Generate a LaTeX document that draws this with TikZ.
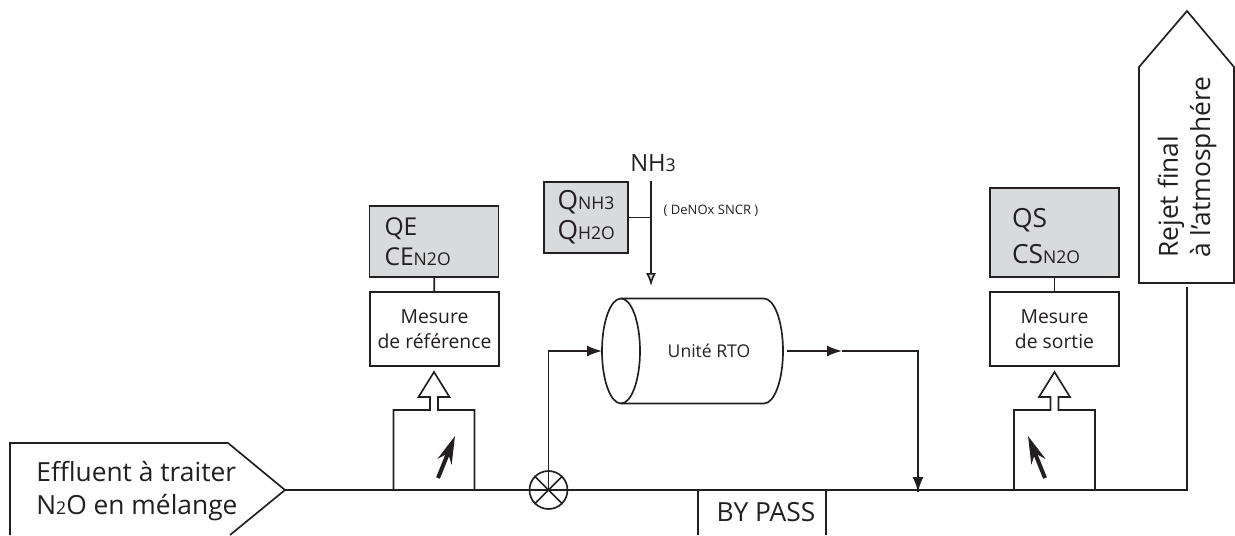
\documentclass[tikz,border=0pt]{standalone}
\usepackage{fontspec}
\setmainfont{Open Sans}
\usepackage{xcolor}
\usetikzlibrary{arrows.meta}
\definecolor{boxgray}{HTML}{D9DADB}
\definecolor{linegray}{HTML}{231F20}
\newcommand{\smalltxt}[1]{{\fontsize{10}{12}\selectfont #1}}
\tikzset{
  gbox/.style   = {rectangle, draw=linegray, fill=boxgray, inner xsep=0.3cm, inner ysep=0pt,
                   minimum width=2.58cm, text width=1.98cm, align=left, line width=0.95pt},
  mbox/.style   = {rectangle, draw=linegray, inner sep=0pt, minimum width=2.58cm,
                   minimum height=1.48cm, align=center, line width=0.95pt,
                   font=\fontsize{11}{14.5}\selectfont},
  pipe/.style   = {draw=linegray, line width=0.95pt},
  flow/.style   = {pipe, -{Latex[length=0.3cm,width=0.22cm]}},
}

\begin{document}
\begin{tikzpicture}[font=\fontsize{15}{18.3}\selectfont, text=linegray]
  \useasboundingbox (0,0) rectangle (24.7,10.7);

  % Inlet and stack outlines
  \draw[pipe] (0.20,0) -- (0.20,1.84) -- (4.56,1.84) -- (5.70,0.90) -- (4.60,0);
  \draw[pipe] (22.78,5.04) -- (22.78,9.36) -- (23.74,10.48) -- (24.68,9.36) -- (24.68,5.04) -- cycle;
  \node[anchor=west, align=left, inner xsep=0pt] (inlet) at (0.72,0.88) {Effluent à traiter\\N{\fontsize{10}{12}\selectfont 2}O en mélange};
  \node[anchor=west, rotate=90, align=left, inner xsep=0pt] (stack) at (23.74,5.54) {Rejet final\\à l'atmosphére};

  \coordinate (inlettip) at (5.70,0.90);
  \coordinate (stackfoot) at (23.74,4.96);

  % Main line
  \node[circle, pipe, minimum size=0.76cm, inner sep=0pt] (valve) at (10.97,0.90) {};
  \draw[pipe] (inlettip) -| (stackfoot);
  \draw[pipe] (valve.north west) -- (valve.south east);
  \draw[pipe] (valve.north east) -- (valve.south west);

  % Bypass
  \node (bypass) at (15.32,0.46) {BY PASS};
  \draw[pipe] (13.96,0.90) -- (13.96,0);
  \draw[pipe] (16.52,0.90) -- (16.52,0);

  % Meters with their hollow arrows
  \foreach \mx/\nx/\tx in {8.68/8.76/9.10, 21.09/20.90/20.56}{
    \draw[pipe] (\mx-0.81,0.90) -- (\mx-0.81,2.50) -- (\mx-0.08,2.50) -- (\mx-0.08,2.76)
      -- (\mx-0.31,2.76) -- (\mx,3.26) -- (\mx+0.31,2.76) -- (\mx+0.08,2.76)
      -- (\mx+0.08,2.50) -- (\mx+0.81,2.50) -- (\mx+0.81,0.90);
    \draw[linegray, line width=2.3pt, -{Stealth[length=0.55cm,width=0.3cm]}] (\nx,1.14) -- (\tx,1.98);
  }

  % Measures
  \node[mbox] (mesref) at (8.69,4.12) {Mesure\\de référence};
  \node[mbox] (messor) at (21.09,4.12) {Mesure\\de sortie};
  \node[gbox, minimum height=1.42cm, font=\fontsize{14}{17}\selectfont] (qe) at (8.68,5.87) {QE\\CE\smalltxt{N2O}};
  \node[gbox, minimum height=1.78cm, inner xsep=0.44cm, text width=1.7cm, font=\fontsize{15}{20.5}\selectfont] (qs) at (21.09,6.05) {\rule{0pt}{0.53cm}QS\\CS\smalltxt{N2O}};
  \draw[pipe] (mesref) -- (qe);
  \draw[pipe] (messor) -- (qs);

  % RTO unit
  \draw[pipe] (12.42,4.73) -- (15.28,4.73) arc[start angle=90, end angle=-90, x radius=0.38, y radius=1.05] -- (12.42,2.63);
  \draw[pipe] (12.42,3.68) ellipse[x radius=0.38, y radius=1.05];
  \node[font=\fontsize{10}{12}\selectfont] (rto) at (14.18,3.68) {Unité RTO};
  \coordinate (rtoin) at (12.04,3.68);
  \coordinate (rtoout) at (15.74,3.68);
  \coordinate (outmid) at (16.84,3.68);
  \coordinate (rejoin) at (18.36,0.86);
  \draw[flow] (valve.center) |- (rtoin);
  \draw[flow] (rtoout) -- (outmid);
  \draw[pipe] (outmid) -| (rejoin);
  \draw[flow] (18.36,2) -- (rejoin);

  % Ammonia feed
  \node (nh3) at (13.06,7.44) {\fontsize{13.5}{15}\selectfont NH\smalltxt{3}};
  \coordinate (nhtop) at (13.02,7.08);
  \coordinate (nhtip) at (13.02,4.98);
  \draw[pipe, -{Latex[open, fill=boxgray, length=0.26cm, width=0.2cm]}] (nhtop) -- (nhtip);
  \node[gbox, minimum width=1.68cm, text width=1.14cm, inner xsep=0.27cm, minimum height=1.42cm,
        font=\fontsize{15}{17}\selectfont] (qnh) at (11.72,6.35) {Q\smalltxt{NH3}\\Q\smalltxt{H2O}};
  \draw[pipe] (qnh.east) -- (qnh.east -| nhtop);
  \node[font=\fontsize{7.4}{9}\selectfont] (denox) at (14.22,6.48) {( DeNOx SNCR )};
\end{tikzpicture}
\end{document}
